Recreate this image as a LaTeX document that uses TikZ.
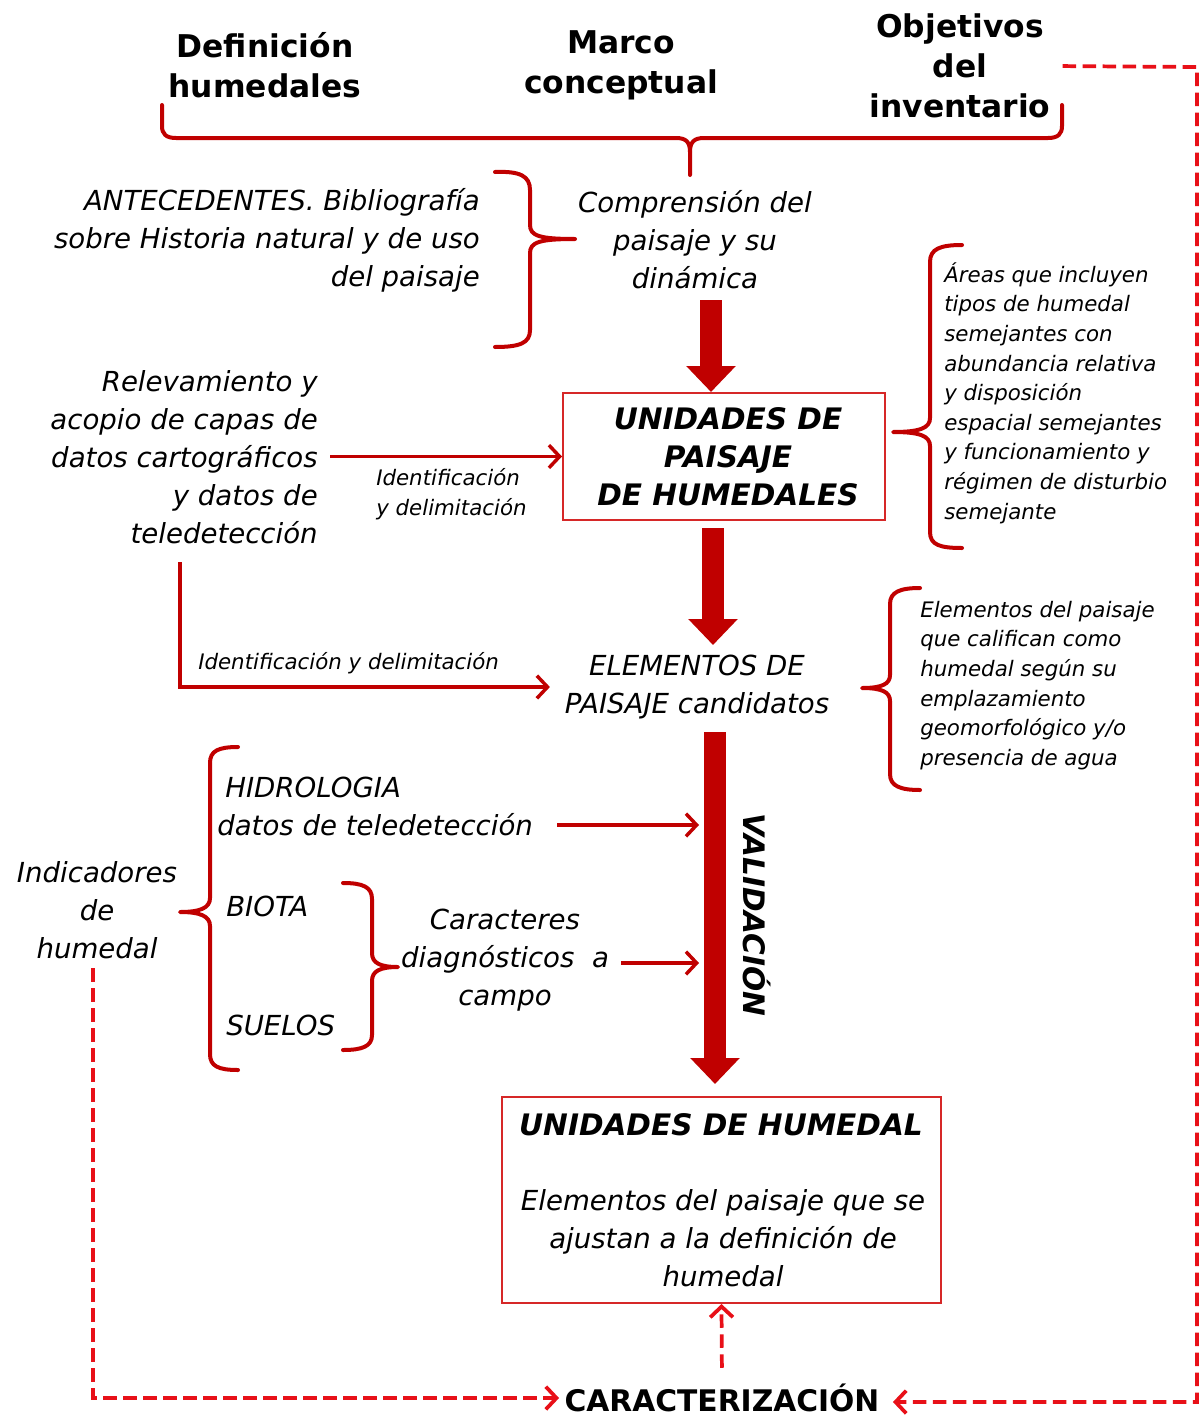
\documentclass[tikz,border=0pt]{standalone}
\usepackage{fontspec}
\setmainfont{DejaVu Sans}
\usetikzlibrary{arrows.meta}
\definecolor{dred}{RGB}{192,0,0}
\definecolor{bred}{RGB}{214,40,40}
\definecolor{dashred}{RGB}{232,16,24}
\begin{document}
\begin{tikzpicture}[x=0.75pt,y=-0.75pt,
  hdr/.style={font=\fontsize{23.5}{30}\selectfont\bfseries, align=center, inner sep=0pt},
  itx/.style={font=\fontsize{20.7}{28.5}\selectfont\itshape, inner sep=0pt},
  smx/.style={font=\fontsize{16}{22.2}\selectfont\itshape, inner sep=0pt, align=left},
  bix/.style={font=\fontsize{22.2}{28.5}\selectfont\bfseries\itshape, inner sep=0pt, align=center},
  boxx/.style={draw=bred, line width=1.5pt, inner sep=0pt},
  bigar/.style={draw=dred, line width=16.5pt, -{Triangle[length=19.5pt,width=36pt,fill=dred]}},
  thinar/.style={draw=dred, line width=2.6pt, -{Straight Barb[length=8pt,width=17pt]}},
  dsh/.style={draw=dashred, line width=2.8pt, dash pattern=on 10pt off 5pt},
  dshar/.style={dsh, -{Straight Barb[length=8pt,width=17pt]}},
  brc/.style={draw=dred, line width=3pt, line cap=round, line join=round}]
\useasboundingbox (0,0) rectangle (1200,1420);

% headers
\node[hdr] (def) at (265,65) {Definición\\humedales};
\node[hdr] (marco) at (621,65) {Marco\\conceptual};
\node[hdr] (obj) at (960,66) {Objetivos\\del\\inventario};

% top brace
\draw[brc] (162,105) -- (162,126) .. controls (162,134) and (166,138) .. (176,138) -- (676,138)
  .. controls (686,138) and (690,142) .. (690,152) -- (690,175);
\draw[brc] (690,152) .. controls (690,142) and (694,138) .. (704,138) -- (1048,138)
  .. controls (1058,138) and (1062,134) .. (1062,126) -- (1062,105);

% comprension & antecedentes
\node[itx, align=center] (compr) at (695,240) {Comprensión del\\paisaje y su\\dinámica};
\node[itx, align=right, anchor=east] (antec) at (480,240) {ANTECEDENTES. Bibliografía\\sobre Historia natural y de uso\\del paisaje};
\draw[brc] (495,172) .. controls (520,171) and (530,176) .. (530,190) -- (530,225)
  .. controls (530,236) and (540,239) .. (575,239)
  .. controls (540,239) and (530,242) .. (530,253) -- (530,330)
  .. controls (530,343) and (520,347) .. (495,347);

% unidades de paisaje
\node[boxx, minimum width=241.5pt, minimum height=95.25pt] (upais) at (724,456.5) {};
\node[bix] (upaist) at (728,457) {UNIDADES DE\\PAISAJE\\DE HUMEDALES};
\coordinate (a1s) at (711,300);
\draw[bigar] (a1s) -- (a1s |- upais.north) ;

% areas
\node[smx, anchor=west] (areas) at (944,393) {Áreas que incluyen\\tipos de humedal\\semejantes con\\abundancia relativa\\y disposición\\espacial semejantes\\y funcionamiento y\\régimen de disturbio\\semejante};
\draw[brc] (962,245) .. controls (940,245) and (930,249) .. (930,262) -- (930,418)
  .. controls (930,428) and (920,432) .. (893,432)
  .. controls (920,432) and (930,436) .. (930,446) -- (930,532)
  .. controls (930,545) and (940,548) .. (962,548);

% relevamiento
\node[itx, align=right, anchor=east] (relev) at (318,457.5) {Relevamiento y\\acopio de capas de\\datos cartográficos\\y datos de\\teledetección};
\node[smx, anchor=west] (ident1) at (376,494) {Identificación\\y delimitación};
\draw[thinar, shorten <=9pt] (relev.east |- upais.west) -- (upais.west);

% elementos
\node[itx, align=center] (elem) at (697,687) {ELEMENTOS DE\\PAISAJE candidatos};
\coordinate (a2s) at (713,528);
\draw[bigar] (a2s) -- (713,645);
\coordinate (c1) at (180,562);
\draw[thinar, shorten >=11pt] (c1) |- (elem.west);
\node[smx, anchor=west] (ident2) at (198,663) {Identificación y delimitación};

\node[smx, anchor=west] (elemt) at (920,685.5) {Elementos del paisaje\\que califican como\\humedal según su\\emplazamiento\\geomorfológico y/o\\presencia de agua};
\draw[brc] (920,588) .. controls (900,588) and (890,592) .. (890,604) -- (890,675)
  .. controls (890,684) and (882,688) .. (862,688)
  .. controls (882,688) and (890,692) .. (890,701) -- (890,774)
  .. controls (890,786) and (900,790) .. (920,790);

% validacion
\coordinate (a3s) at (715,732);
\node[boxx, minimum width=329.25pt, minimum height=154.5pt] (uhum) at (721.5,1200) {};
\draw[bigar] (a3s) -- (715,1084);
\node[bix, rotate=-90] (valid) at (757,915) {VALIDACIÓN};

% indicadores
\node[itx, align=center] (indic) at (97,910) {Indicadores\\de\\humedal};
\draw[brc] (238,747) .. controls (218,747) and (210,751) .. (210,763) -- (210,898)
  .. controls (210,908) and (200,912) .. (180,912)
  .. controls (200,912) and (210,916) .. (210,926) -- (210,1054)
  .. controls (210,1066) and (218,1070) .. (238,1070);
\node[itx, anchor=west] (hidro) at (225,787) {HIDROLOGIA};
\node[itx, anchor=west] (datos) at (217,825) {datos de teledetección};
\node[itx, anchor=west] (biota) at (226,906) {BIOTA};
\node[itx, anchor=west] (suelos) at (226,1025) {SUELOS};
\draw[brc] (343,883) .. controls (363,883) and (372,887) .. (372,899) -- (372,953)
  .. controls (372,963) and (380,967) .. (398,967)
  .. controls (380,967) and (372,971) .. (372,981) -- (372,1035)
  .. controls (372,1046) and (363,1050) .. (343,1050);
\node[itx, align=center] (carac) at (505,960) {Caracteres\\diagnósticos~~a\\campo};
\coordinate (v1) at (699,825);
\coordinate (v2) at (699,963);
\draw[thinar, shorten <=18pt] (datos.east) -- (v1);
\draw[thinar, shorten <=9pt] (carac.east |- v2) -- (v2);

% unidades de humedal
\node[bix] (uhumt) at (721,1125) {UNIDADES DE HUMEDAL};
\node[itx, align=center] (uhumb) at (723,1238) {Elementos del paisaje que se\\ajustan a la definición de\\humedal};

% caracterizacion
\node[font=\fontsize{22.3}{28}\selectfont\bfseries, inner sep=0pt] (caract) at (722,1398) {CARACTERIZACIÓN};
\coordinate (c2) at (1197,67);
\draw[dshar, shorten <=9pt, shorten >=10pt] (obj.east) -- (c2) |- ([yshift=-3pt]caract.east);
\draw[dshar, shorten <=7pt, shorten >=4pt] (indic.south -| 93,0) |- ([yshift=0pt]caract.west);
\draw[dshar, shorten <=12pt] (caract.north) -- (uhum.south);
\end{tikzpicture}
\end{document}
